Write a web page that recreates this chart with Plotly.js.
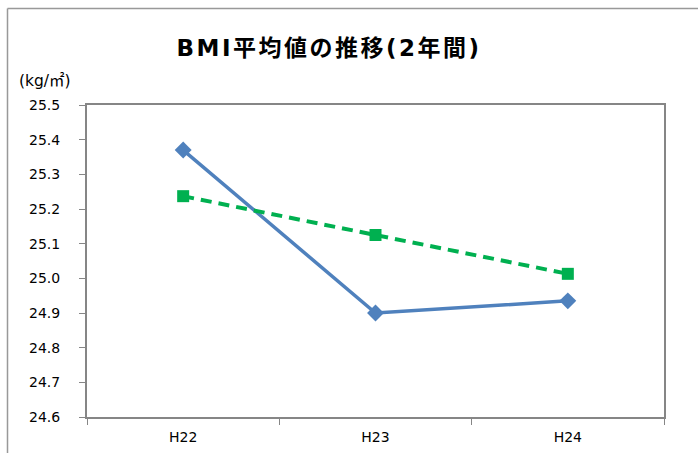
<!DOCTYPE html>
<html>
<head>
<meta charset="utf-8">
<script src="https://cdn.plot.ly/plotly-3.0.1.min.js"></script>
<style>
html,body{margin:0;padding:0;background:#fff;}
#chart{width:698px;height:453px;}
.gtitle{letter-spacing:2.5px;}
</style>
</head>
<body>
<div id="chart"></div>
<script>
const categories = ["H22", "H23", "H24"];
const seriesBlue = [25.37, 24.90, 24.935];
const seriesGreen = [25.237, 25.125, 25.013];
const yTicks = [24.6, 24.7, 24.8, 24.9, 25.0, 25.1, 25.2, 25.3, 25.4, 25.5];
const yTickLabels = ["24.6", "24.7", "24.8", "24.9", "25.0", "25.1", "25.2", "25.3", "25.4", "25.5"];
const titleText = "BMI平均値の推移(2年間)";
const unitText = "(kg/㎡)";

const traces = [
  {
    x: categories, y: seriesBlue, type: "scatter", mode: "lines+markers",
    line: {color: "#4F81BD", width: 3.5},
    marker: {symbol: "diamond", size: 13, color: "#4F81BD"},
    hoverinfo: "skip"
  },
  {
    x: categories, y: seriesGreen, type: "scatter", mode: "lines+markers",
    line: {color: "#00B050", width: 4, dash: "11px,7px"},
    marker: {symbol: "square", size: 12, color: "#00B050"},
    hoverinfo: "skip"
  }
];

const layout = {
  width: 698, height: 453,
  margin: {l: 87, r: 34, t: 105, b: 36},
  paper_bgcolor: "#fff", plot_bgcolor: "#fff",
  showlegend: false,
  font: {family: "DejaVu Sans, sans-serif", size: 14, color: "#000"},
  title: {
    text: titleText,
    font: {family: "DejaVu Sans, Noto Sans CJK JP", size: 23, color: "#000", weight: "bold"},
    xref: "container", x: 329/698, xanchor: "center",
    yref: "container", y: 1 - 48/453, yanchor: "middle"
  },
  xaxis: {
    type: "category", range: [-0.5, 2.5],
    showgrid: false, zeroline: false,
    showline: true, mirror: true, linecolor: "#868686", linewidth: 2,
    ticks: "outside", tickson: "boundaries", ticklen: 6, tickcolor: "#868686", tickwidth: 1,
    ticklabelstandoff: 6,
    tickfont: {family: "DejaVu Sans", size: 14, color: "#000"}
  },
  yaxis: {
    range: [24.6, 25.5],
    tickvals: yTicks, ticktext: yTickLabels,
    showgrid: false, zeroline: false,
    showline: true, mirror: true, linecolor: "#868686", linewidth: 2,
    ticks: "outside", ticklen: 6, tickcolor: "#868686", tickwidth: 1,
    ticklabelstandoff: 16,
    tickfont: {family: "DejaVu Sans", size: 14, color: "#000"}
  },
  annotations: [
    {
      text: unitText, xref: "paper", yref: "paper",
      x: (45-87)/577, y: (417-81)/312, xanchor: "center", yanchor: "middle",
      showarrow: false, font: {family: "DejaVu Sans, Noto Sans CJK JP", size: 15.5, color: "#000"}
    }
  ],
  shapes: [
    {type: "line", xref: "paper", yref: "paper", x0: (7.5-87)/577, x1: (7.5-87)/577, y0: 1.309, y1: -0.3,
     line: {color: "#999", width: 1.5}},
    {type: "line", xref: "paper", yref: "paper", x0: (7.5-87)/577, x1: 1.2, y0: 1.309, y1: 1.309,
     line: {color: "#999", width: 1.5}}
  ]
};

Plotly.newPlot("chart", traces, layout, {displayModeBar: false, staticPlot: true});
</script>
</body>
</html>
